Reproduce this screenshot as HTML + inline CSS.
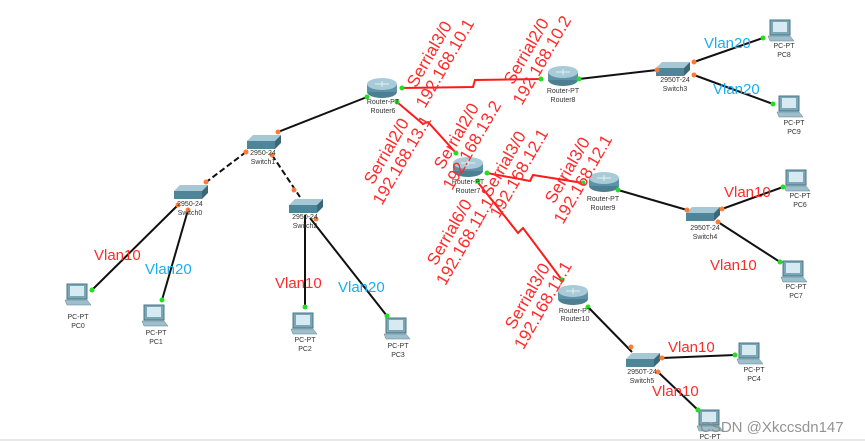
<!DOCTYPE html>
<html><head><meta charset="utf-8"><style>
html,body{margin:0;padding:0;background:#fff;}
svg{display:block;}
.lbl{font-family:"Liberation Sans",sans-serif;font-size:7px;fill:#333;text-anchor:middle;}
.rot{font-family:"Liberation Sans",sans-serif;font-size:17px;fill:#ff2a2a;text-anchor:middle;}
.v{font-family:"Liberation Sans",sans-serif;font-size:15px;}
</style></head><body>
<svg width="865" height="441" viewBox="0 0 865 441" xmlns="http://www.w3.org/2000/svg">
<defs>
<g id="router">
<ellipse cx="0" cy="4" rx="15" ry="6" fill="#4d7f92"/>
<rect x="-15" y="-4" width="30" height="8" fill="#5d93a8"/>
<ellipse cx="0" cy="-4" rx="15" ry="6" fill="#a9cbd8"/>
<path d="M-7 -4 L7 -4 M0 -7 L0 -1" stroke="#e0f0f5" stroke-width="1"/>
</g>
<g id="switch">
<polygon points="-16,-2 -10,-8 18,-8 12,-2" fill="#a6c8d5"/>
<polygon points="-16,-2 12,-2 12,6 -16,6" fill="#4f8599"/>
<polygon points="12,-2 18,-8 18,0 12,6" fill="#3b6878"/>
</g>
<g id="pc">
<rect x="-11" y="-12" width="20" height="15" fill="#7aa7b8" stroke="#4c7585"/>
<rect x="-8" y="-10" width="14" height="10" fill="#d8eaf1"/>
<polygon points="-13,4 9,4 13,9 -11,9" fill="#9dbfcc" stroke="#5a8293" stroke-width="0.5"/>
</g>
</defs>

<g stroke="#111" stroke-width="2" fill="none">
<line x1="367" y1="97" x2="278" y2="132"/>
<line x1="178" y1="205" x2="92" y2="290"/>
<line x1="188" y1="210" x2="162" y2="300"/>
<line x1="305" y1="215" x2="305" y2="307"/>
<line x1="310" y1="218" x2="387" y2="316"/>
<line x1="579" y1="79" x2="657" y2="70"/>
<line x1="694" y1="62" x2="763" y2="38"/>
<line x1="694" y1="75" x2="773" y2="104"/>
<line x1="618" y1="190" x2="687" y2="210"/>
<line x1="722" y1="209" x2="783" y2="187"/>
<line x1="718" y1="222" x2="780" y2="262"/>
<line x1="588" y1="307" x2="632" y2="352"/>
<line x1="662" y1="358" x2="735" y2="355"/>
<line x1="658" y1="372" x2="698" y2="410"/>
</g>
<g stroke="#111" stroke-width="2" fill="none" stroke-dasharray="6,3">
<line x1="246" y1="152" x2="205" y2="183"/>
<line x1="272" y1="155" x2="300" y2="197"/>
</g>
<g stroke="#ff1a1a" stroke-width="2" fill="none">
<polyline points="402,88 473,87 475,80 541,79"/>
<polyline points="397,102 423,124 428,122 456,153"/>
<polyline points="487,173 530,181 533,175 583,183"/>
<polyline points="476,180 518,233 523,228 562,280"/>
</g>

<use href="#router" x="382" y="88"/>
<use href="#router" x="563" y="76"/>
<use href="#router" x="468" y="167"/>
<use href="#router" x="604" y="182"/>
<use href="#router" x="573" y="295"/>
<use href="#switch" x="263" y="143"/>
<use href="#switch" x="190" y="193"/>
<use href="#switch" x="305" y="207"/>
<use href="#switch" x="672" y="70"/>
<use href="#switch" x="702" y="215"/>
<use href="#switch" x="642" y="361"/>
<use href="#pc" x="78" y="296"/>
<use href="#pc" x="155" y="317"/>
<use href="#pc" x="304" y="325"/>
<use href="#pc" x="397" y="330"/>
<use href="#pc" x="781" y="32"/>
<use href="#pc" x="790" y="108"/>
<use href="#pc" x="797" y="182"/>
<use href="#pc" x="794" y="273"/>
<use href="#pc" x="750" y="355"/>
<use href="#pc" x="710" y="422"/>

<g fill="#22dd22">
<circle cx="367" cy="97" r="2.5"/><circle cx="402" cy="88" r="2.5"/><circle cx="397" cy="102" r="2.5"/>
<circle cx="541" cy="79" r="2.5"/><circle cx="579" cy="79" r="2.5"/>
<circle cx="456" cy="153" r="2.5"/><circle cx="487" cy="173" r="2.5"/><circle cx="478" cy="181" r="2.5"/>
<circle cx="583" cy="183" r="2.5"/><circle cx="618" cy="190" r="2.5"/>
<circle cx="562" cy="280" r="2.5"/><circle cx="588" cy="307" r="2.5"/>
<circle cx="92" cy="290" r="2.5"/><circle cx="162" cy="300" r="2.5"/><circle cx="305" cy="307" r="2.5"/><circle cx="387" cy="316" r="2.5"/>
<circle cx="763" cy="38" r="2.5"/><circle cx="773" cy="104" r="2.5"/><circle cx="783" cy="187" r="2.5"/><circle cx="780" cy="262" r="2.5"/>
<circle cx="735" cy="355" r="2.5"/><circle cx="698" cy="410" r="2.5"/>
</g>
<g fill="#ff7a33">
<circle cx="278" cy="132" r="2.5"/><circle cx="246" cy="152" r="2.5"/><circle cx="272" cy="155" r="2.5"/>
<circle cx="206" cy="182" r="2.5"/><circle cx="294" cy="190" r="2.5"/>
<circle cx="178" cy="205" r="2.5"/><circle cx="188" cy="210" r="2.5"/><circle cx="316" cy="219" r="2.5"/>
<circle cx="657" cy="70" r="2.5"/><circle cx="694" cy="62" r="2.5"/><circle cx="694" cy="75" r="2.5"/>
<circle cx="687" cy="210" r="2.5"/><circle cx="722" cy="209" r="2.5"/><circle cx="718" cy="222" r="2.5"/>
<circle cx="631" cy="347" r="2.5"/><circle cx="662" cy="358" r="2.5"/><circle cx="658" cy="372" r="2.5"/>
</g>

<g class="lbl">
<text x="383" y="104">Router-PT</text><text x="383" y="113">Router6</text>
<text x="563" y="93">Router-PT</text><text x="563" y="102">Router8</text>
<text x="468" y="184">Router-PT</text><text x="468" y="193">Router7</text>
<text x="603" y="201">Router-PT</text><text x="603" y="210">Router9</text>
<text x="575" y="313">Router-PT</text><text x="575" y="321">Router10</text>
<text x="263" y="155">2950-24</text><text x="263" y="164">Switch1</text>
<text x="190" y="206">2950-24</text><text x="190" y="215">Switch0</text>
<text x="305" y="219">2950-24</text><text x="305" y="228">Switch2</text>
<text x="675" y="82">2950T-24</text><text x="675" y="91">Switch3</text>
<text x="705" y="230">2950T-24</text><text x="705" y="239">Switch4</text>
<text x="642" y="374">2950T-24</text><text x="642" y="383">Switch5</text>
<text x="78" y="319">PC-PT</text><text x="78" y="328">PC0</text>
<text x="156" y="335">PC-PT</text><text x="156" y="344">PC1</text>
<text x="305" y="342">PC-PT</text><text x="305" y="351">PC2</text>
<text x="398" y="348">PC-PT</text><text x="398" y="357">PC3</text>
<text x="784" y="48">PC-PT</text><text x="784" y="57">PC8</text>
<text x="794" y="125">PC-PT</text><text x="794" y="134">PC9</text>
<text x="800" y="198">PC-PT</text><text x="800" y="207">PC6</text>
<text x="796" y="289">PC-PT</text><text x="796" y="298">PC7</text>
<text x="754" y="372">PC-PT</text><text x="754" y="381">PC4</text>
<text x="710" y="439">PC-PT</text>
</g>

<g class="rot">
<g transform="translate(436,58) rotate(-60)"><text y="-2">Serrial3/0</text><text y="16">192.168.10.1</text></g>
<g transform="translate(533,55) rotate(-60)"><text y="-2">Serrial2/0</text><text y="16">192.168.10.2</text></g>
<g transform="translate(393,155) rotate(-60)"><text y="-2">Serrial2/0</text><text y="16">192.168.13.1</text></g>
<g transform="translate(463,140) rotate(-60)"><text y="-2">Serrial2/0</text><text y="16">192.168.13.2</text></g>
<g transform="translate(510,168) rotate(-60)"><text y="-2">Serrial3/0</text><text y="16">192.168.12.1</text></g>
<g transform="translate(574,174) rotate(-60)"><text y="-2">Serrial3/0</text><text y="16">192.168.12.1</text></g>
<g transform="translate(456,236) rotate(-60)"><text y="-2">Serrial6/0</text><text y="16">192.168.11.1</text></g>
<g transform="translate(534,300) rotate(-60)"><text y="-2">Serrial3/0</text><text y="16">192.168.11.1</text></g>
</g>

<g class="v">
<text x="94" y="260" fill="#ff2a2a">Vlan10</text>
<text x="145" y="274" fill="#1aaeef">Vlan20</text>
<text x="275" y="288" fill="#ff2a2a">Vlan10</text>
<text x="338" y="292" fill="#1aaeef">Vlan20</text>
<text x="704" y="48" fill="#1aaeef">Vlan20</text>
<text x="713" y="94" fill="#1aaeef">Vlan20</text>
<text x="724" y="197" fill="#ff2a2a">Vlan10</text>
<text x="710" y="270" fill="#ff2a2a">Vlan10</text>
<text x="668" y="352" fill="#ff2a2a">Vlan10</text>
<text x="652" y="396" fill="#ff2a2a">Vlan10</text>
</g>
<text x="700" y="432" font-family="Liberation Sans,sans-serif" font-size="15" fill="#888" opacity="0.9">CSDN @Xkccsdn147</text>
<rect x="0" y="439" width="865" height="2" fill="#e8e8e8"/>
</svg>
</body></html>
